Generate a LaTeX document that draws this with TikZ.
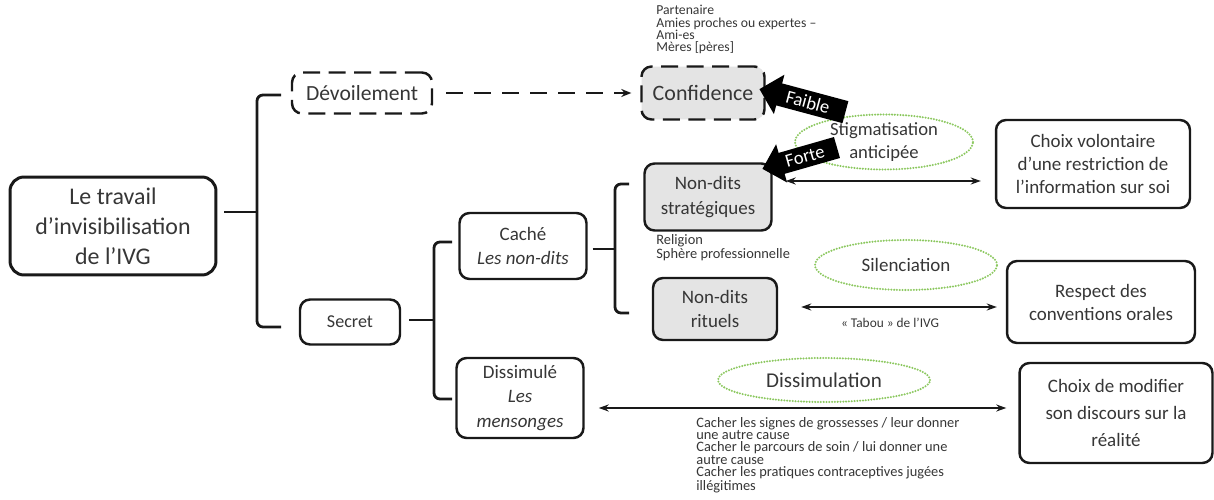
\documentclass[tikz,border=0pt]{standalone}
\usepackage{fontspec}
\setmainfont{Carlito}
\usetikzlibrary{shapes.geometric,shapes.arrows,arrows.meta,calc}
\definecolor{txt}{HTML}{363636}
\definecolor{grn}{HTML}{8CC860}
\definecolor{gfill}{HTML}{E4E4E4}
\begin{document}
\begin{tikzpicture}[x=0.02cm,y=-0.02cm,
 box/.style={draw=black!90, line width=1.4pt, rounded corners=0.2cm, align=center, text=txt, inner sep=0pt},
 dbox/.style={box, dash pattern=on 0.34cm off 0.17cm},
 oval/.style={ellipse, draw=grn, line width=1.3pt, dash pattern=on 0pt off 1.6pt, line cap=round, text=txt, align=center, inner sep=0pt},
 brk/.style={line width=1.6pt, rounded corners=0.12cm, draw=black!90},
 dbl/.style={line width=1.1pt, draw=black!90, {Stealth[length=0.2cm,width=0.14cm]}-{Stealth[length=0.2cm,width=0.14cm]}},
 blk/.style={single arrow, fill=black, text=white, shape border rotate=180, anchor=tip, inner xsep=2pt, inner ysep=0.09cm, single arrow head extend=0.18cm, font=\fontsize{10.6pt}{11pt}\selectfont},
 note/.style={text=txt, align=left, inner sep=0pt, anchor=north west}
]
\useasboundingbox (0,0) rectangle (1214,500);

% boxes
\node[box, line width=1.7pt, rounded corners=0.28cm, minimum width=4.12cm, minimum height=1.96cm, font=\fontsize{13.6pt}{17pt}\selectfont] (main) at (113,226) {Le travail\\d’invisibilisation\\de l’IVG};
\node[dbox, minimum width=2.8cm, minimum height=0.82cm, font=\fontsize{12.3pt}{15pt}\selectfont] (dev) at (362,93) {Dévoilement};
\node[box, minimum width=2cm, minimum height=0.9cm, font=\fontsize{10.3pt}{13pt}\selectfont] (secret) at (350,322) {Secret};
\node[box, minimum width=2.54cm, minimum height=1.32cm, font=\fontsize{10.8pt}{14.2pt}\selectfont] (cache) at (523,246) {Caché\\\textit{Les non-dits}};
\node[box, minimum width=2.54cm, minimum height=1.6cm, font=\fontsize{10.8pt}{13.7pt}\selectfont] (dissim) at (520,398) {Dissimulé\\\textit{Les}\\\textit{mensonges}};
\node[dbox, fill=gfill, minimum width=2.46cm, minimum height=1.06cm, font=\fontsize{12.5pt}{15pt}\selectfont] (conf) at (703,93) {Confidence};
\node[box, fill=gfill, minimum width=2.54cm, minimum height=1.34cm, font=\fontsize{10.8pt}{14.2pt}\selectfont] (strat) at (708,197) {Non-dits\\stratégiques};
\node[box, fill=gfill, minimum width=2.48cm, minimum height=1.24cm, font=\fontsize{10.8pt}{14.2pt}\selectfont] (rituels) at (715,309) {Non-dits\\rituels};
\node[box, minimum width=3.88cm, minimum height=1.76cm, font=\fontsize{10.8pt}{13.1pt}\selectfont] (choix1) at (1093,164) {Choix volontaire\\d’une restriction de\\l’information sur soi};
\node[box, minimum width=3.76cm, minimum height=1.64cm, font=\fontsize{10.8pt}{13.1pt}\selectfont] (respect) at (1101,302) {Respect des\\conventions orales};
\node[box, minimum width=3.86cm, minimum height=2cm, font=\fontsize{10.8pt}{15.4pt}\selectfont] (modif) at (1116,413) {Choix de modifier\\son discours sur la\\réalité};

% ellipses
\node[oval, minimum width=3.56cm, minimum height=1.08cm, font=\fontsize{10.6pt}{13.1pt}\selectfont] (stig) at (884,142) {Stigmatisation\\anticipée};
\node[oval, minimum width=3.64cm, minimum height=1.0cm, font=\fontsize{10.8pt}{13pt}\selectfont] (sil) at (906,265) {Silenciation};
\node[oval, minimum width=4.24cm, minimum height=0.88cm, font=\fontsize{12pt}{14pt}\selectfont] (dsm) at (824,380) {Dissimulation};

% block arrows
\node[blk, rotate=-15, minimum height=1.78cm] (faible) at (759,89) {Faible};
\node[blk, rotate=16, minimum height=1.55cm] (forte) at (762,169) {Forte};

% notes
\node[note, font=\fontsize{7.8pt}{7pt}\selectfont] (partners) at (656,5) {Partenaire\\Amies proches ou expertes –\\Ami-es\\Mères [pères]};
\node[note, font=\fontsize{8.2pt}{7pt}\selectfont] (rel) at (656,234) {Religion\\Sphère professionnelle};
\node[text=txt, inner sep=0pt, font=\fontsize{7.6pt}{9pt}\selectfont] (tabou) at (890,323) {« Tabou » de l’IVG};
\node[note, font=\fontsize{8.2pt}{7pt}\selectfont] (cacher) at (696,417) {Cacher les signes de grossesses / leur donner\\une autre cause\\Cacher le parcours de soin / lui donner une\\autre cause\\Cacher les pratiques contraceptives jugées\\illégitimes};

% brackets
\coordinate (j1) at (257,212); \coordinate (h1a) at (281,95); \coordinate (h1b) at (281,327);
\draw[brk] ($(main.east |- j1)+(7,0)$) -- (j1);
\draw[brk] (h1a) -| (j1) |- (h1b);
\coordinate (j2) at (434,320); \coordinate (h2a) at (452,242); \coordinate (h2b) at (452,399);
\draw[brk] ($(secret.east |- j2)+(8,0)$) -- (j2);
\draw[brk] (h2a) -| (j2) |- (h2b);
\coordinate (j3) at (615,249); \coordinate (h3a) at (629,184); \coordinate (h3b) at (629,313);
\draw[brk] ($(cache.east |- j3)+(5,0)$) -- (j3);
\draw[brk] (h3a) -| (j3) |- (h3b);

% connectors
\draw[line width=1.4pt, draw=black!90, dash pattern=on 0.34cm off 0.22cm, -{Stealth[length=0.2cm,width=0.16cm]}] ($(dev.east)+(13,0)$) -- ($(conf.west)+(-9,0)$);
\draw[dbl] ($(strat.east)+(13,-16)$) -- ($(choix1.west)+(-14,17)$);
\draw[dbl] ($(rituels.east)+(23,-2)$) -- ($(respect.west)+(-9,5)$);
\draw[dbl] ($(dissim.east)+(14,10)$) -- ($(modif.west)+(-12,-5)$);
\end{tikzpicture}
\end{document}
